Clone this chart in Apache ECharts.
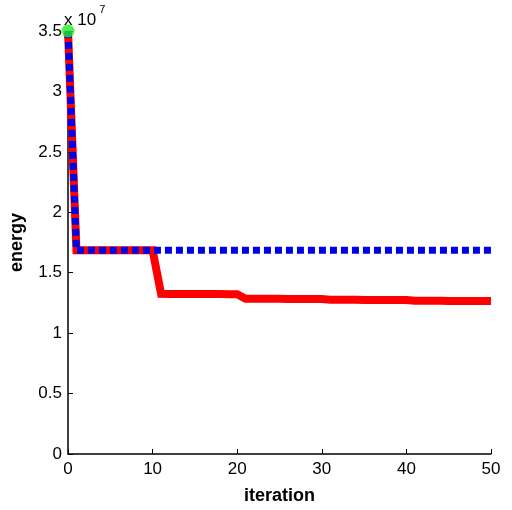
<!DOCTYPE html>
<html><head><meta charset="utf-8">
<script src="https://cdn.jsdelivr.net/npm/echarts@6/dist/echarts.min.js"></script>
<style>html,body{margin:0;padding:0;background:#fff}#c{width:512px;height:510px}</style>
</head><body><div id="c"></div>
<script>
var iterations = [];
for (var i = 0; i <= 50; i++) iterations.push(i);
// energy in units of 1e7
var redEnergy = [3.5,1.685,1.685,1.685,1.685,1.685,1.685,1.685,1.685,1.685,1.685,
  1.325,1.324,1.323,1.323,1.323,1.323,1.323,1.323,1.322,1.322,
  1.285,1.284,1.284,1.284,1.284,1.283,1.283,1.283,1.283,1.283,
  1.276,1.276,1.276,1.276,1.275,1.275,1.275,1.275,1.275,1.275,
  1.268,1.267,1.267,1.267,1.266,1.266,1.266,1.265,1.265,1.265];
var blueEnergy = [3.5,1.685,1.685,1.685,1.685,1.685,1.685,1.685,1.685,1.685,1.685,
  1.685,1.685,1.685,1.685,1.685,1.685,1.685,1.685,1.685,1.685,
  1.685,1.685,1.685,1.685,1.685,1.685,1.685,1.685,1.685,1.685,
  1.685,1.685,1.685,1.685,1.685,1.685,1.685,1.685,1.685,1.685,
  1.685,1.685,1.685,1.685,1.685,1.685,1.685,1.685,1.685,1.685];
var startPoint = [[0, 3.5]];
var yTicks = [0, 0.5, 1, 1.5, 2, 2.5, 3, 3.5];
var xTicks = [0, 10, 20, 30, 40, 50];

function pairs(xs, ys){ return xs.map(function(x,i){return [x, ys[i]];}); }

var chart = echarts.init(document.getElementById('c'));
var font = 'Liberation Sans, Arial, sans-serif';
chart.setOption({
  animation: false,
  backgroundColor: '#fff',
  grid: {left: 66, right: 21, top: 31, bottom: 56},
  xAxis: {
    type: 'value', min: 0, max: 50, interval: 10,
    name: 'iteration', nameLocation: 'middle', nameGap: 33,
    nameTextStyle: {fontFamily: font, fontSize: 18, fontWeight: 'bold', color: '#000'},
    axisLine: {show: true, lineStyle: {color: '#000', width: 1.5}},
    axisTick: {show: true, inside: true, length: 5, lineStyle: {color: '#000'}},
    axisLabel: {fontFamily: font, fontSize: 17, color: '#000', margin: 7},
    splitLine: {show: false}
  },
  yAxis: {
    type: 'value', min: 0, max: 3.5, interval: 0.5,
    name: 'energy', nameLocation: 'middle', nameGap: 42, nameRotate: 90,
    nameTextStyle: {fontFamily: font, fontSize: 18, fontWeight: 'bold', color: '#000'},
    axisLine: {show: true, lineStyle: {color: '#000', width: 1.5}},
    axisTick: {show: true, inside: true, length: 5, lineStyle: {color: '#000'}},
    axisLabel: {fontFamily: font, fontSize: 17, color: '#000', margin: 6,
      formatter: function(v){ return String(v); }},
    splitLine: {show: false}
  },
  graphic: [{
    type: 'text', left: 64, top: 4,
    style: {
      text: '{a|x 10}{b|7}',
      rich: {
        a: {fontFamily: font, fontSize: 17, fill: '#000', padding: [8,0,0,0]},
        b: {fontFamily: font, fontSize: 11, fill: '#000', verticalAlign: 'top', padding: [0,0,8,3]}
      }
    }
  }],
  series: [
    {type: 'line', data: pairs(iterations, redEnergy), showSymbol: false, symbol: 'none',
     lineStyle: {color: '#ff0000', width: 8, cap: 'butt', join: 'miter'}, z: 2},
    {type: 'line', data: pairs(iterations, blueEnergy), showSymbol: false, symbol: 'none',
     lineStyle: {color: '#0000e6', width: 7, type: [7, 4], cap: 'butt', join: 'miter'}, z: 3},
    {type: 'scatter', data: startPoint, symbolSize: 13, itemStyle: {color: '#22ee22'}, z: 5}
  ]
});
</script></body></html>
